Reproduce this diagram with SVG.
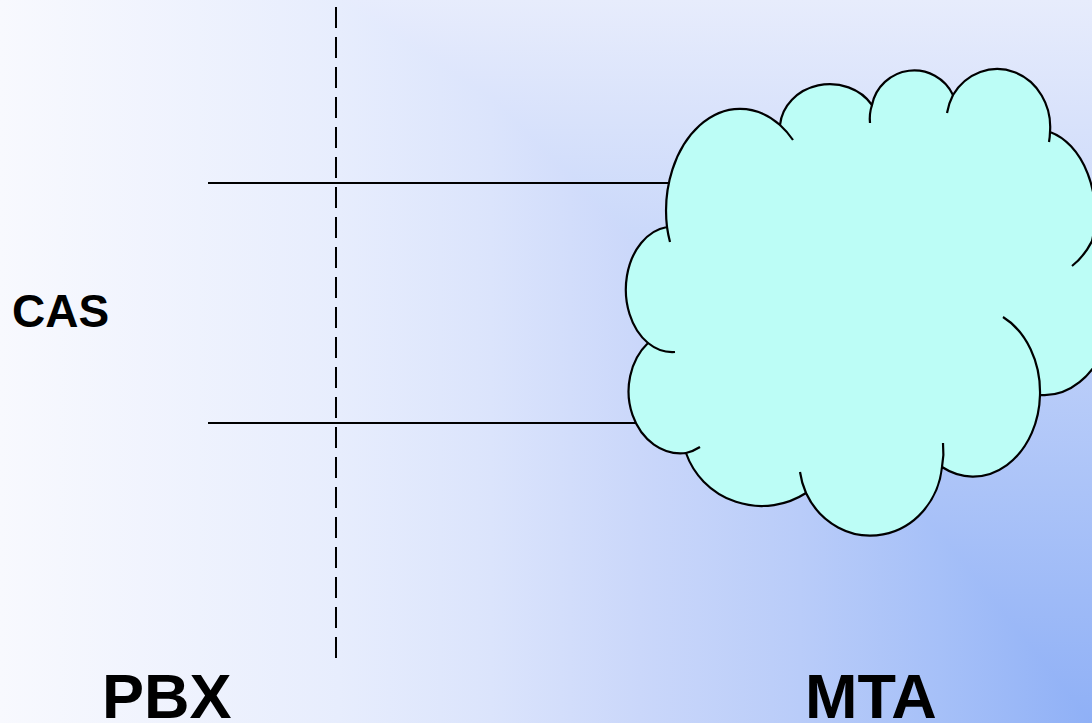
<svg xmlns="http://www.w3.org/2000/svg" width="1092" height="723" viewBox="0 0 1092 723">
  <defs>
    <linearGradient id="bgH" x1="0" y1="0" x2="1" y2="0">
      <stop offset="0" stop-color="#f8f9fe"/>
      <stop offset="0.31" stop-color="#e7edfd"/>
      <stop offset="0.45" stop-color="#dbe4fc"/>
      <stop offset="0.586" stop-color="#cad7fa"/>
      <stop offset="0.733" stop-color="#b9ccf9"/>
      <stop offset="0.86" stop-color="#a6c0f8"/>
      <stop offset="1" stop-color="#8fb0f6"/>
    </linearGradient>
    <linearGradient id="bgV" x1="0" y1="0" x2="0" y2="1">
      <stop offset="0" stop-color="#e7ecfc"/>
      <stop offset="1" stop-color="#8fb0f6"/>
    </linearGradient>
  </defs>
  <style>
    .line { stroke: #000; stroke-width: 2; fill: none; }
    .dash { stroke: #000; stroke-width: 2; fill: none; stroke-dasharray: 21 9; }
    .cloud { fill: #bcfdf6; stroke: #000; stroke-width: 2.2; stroke-linejoin: round; }
    .inner { fill: none; stroke: #000; stroke-width: 2.2; stroke-linecap: butt; }
    .lbl { font-family: "Liberation Sans", Arial, sans-serif; font-weight: bold; fill: #000; }
  </style>
  <g id="background" style="isolation:isolate">
    <rect x="0" y="0" width="1092" height="723" fill="url(#bgH)"/>
    <rect x="0" y="0" width="1092" height="723" fill="url(#bgV)" style="mix-blend-mode:lighten"/>
  </g>

  <g id="divider">
    <path class="dash" d="M336,7 V663"/>
  </g>

  <g id="connectors">
    <path class="line" d="M208,183 H670"/>
    <path class="line" d="M208,423 H640"/>
  </g>

  <g id="cloud">
    <path class="cloud" d="M667,227
      A74,102 0 0 1 780,125
      A50,45 0 0 1 872,105
      A43,43 0 0 1 953,95
      A53,58 0 0 1 1050,132
      A60,85 0 0 1 1092,241
      A68,90 0 0 1 1040,395
      A67,84 0 0 1 942,467
      A72,77 0 0 1 806,493
      A80,78 0 0 1 686,453
      A52,62 0 0 1 648,343
      A47,63 0 0 1 667,227 Z"/>
    <path class="inner" d="M670,242 A74,102 0 0 1 667,227"/>
    <path class="inner" d="M780,125 A74,102 0 0 1 793,140"/>
    <path class="inner" d="M870,123 A43,43 0 0 1 872,105"/>
    <path class="inner" d="M947,113 A53,58 0 0 1 953,95"/>
    <path class="inner" d="M1050,132 A53,58 0 0 1 1049,142"/>
    <path class="inner" d="M1092,241 A60,85 0 0 1 1072,266"/>
    <path class="inner" d="M1003,317 A67,84 0 0 1 1040,395"/>
    <path class="inner" d="M943,443 A72,77 0 0 1 942,467"/>
    <path class="inner" d="M806,493 A72,77 0 0 1 800,472"/>
    <path class="inner" d="M700,447 A52,62 0 0 1 686,453"/>
    <path class="inner" d="M675,352 A47,63 0 0 1 648,343"/>
  </g>

  <g id="label-cas">
    <text class="lbl" x="12" y="327" font-size="46">CAS</text>
  </g>
  <g id="label-pbx">
    <text class="lbl" x="102" y="718" font-size="63">PBX</text>
  </g>
  <g id="label-mta">
    <text class="lbl" x="805" y="718" font-size="63">MTA</text>
  </g>
</svg>
